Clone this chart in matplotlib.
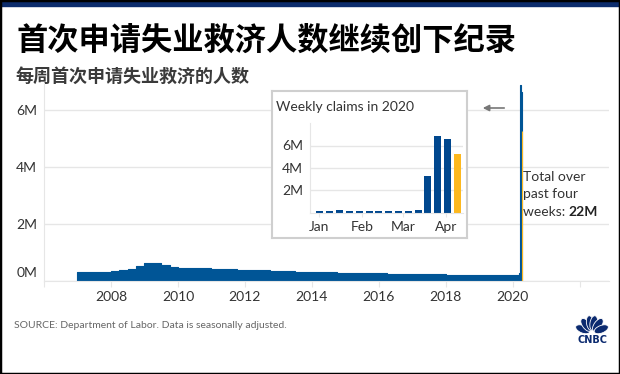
import numpy as np
import pandas as pd
import matplotlib
matplotlib.use('Agg')
import matplotlib.pyplot as plt
from matplotlib.patches import Rectangle, Ellipse, FancyArrowPatch
from matplotlib.transforms import ScaledTranslation

plt.rcParams['font.family'] = ['Lato', 'Noto Sans CJK SC', 'DejaVu Sans']

# quarterly average of weekly initial claims, thousands (2007 Q1 .. 2019 Q4)
quarterly_claims_k = [
    320, 315, 310, 330,   # 2007
    350, 370, 420, 510,   # 2008
    620, 640, 560, 500,   # 2009
    460, 460, 460, 440,   # 2010
    410, 420, 410, 400,   # 2011
    370, 380, 370, 360,   # 2012
    350, 350, 320, 330,   # 2013
    320, 310, 300, 290,   # 2014
    290, 280, 270, 270,   # 2015
    265, 260, 255, 255,   # 2016
    245, 245, 245, 240,   # 2017
    225, 220, 210, 220,   # 2018
    220, 215, 215, 215,   # 2019
]
first_year = 2007

# weekly claims in 2020 (week ending), thousands
week_ending_2020 = ['2020-01-04', '2020-01-11', '2020-01-18', '2020-01-25',
                    '2020-02-01', '2020-02-08', '2020-02-15', '2020-02-22',
                    '2020-02-29', '2020-03-07', '2020-03-14', '2020-03-21',
                    '2020-03-28', '2020-04-04', '2020-04-11']
weekly_claims_2020_k = [214, 207, 223, 216, 202, 205, 211, 219, 217, 211,
                        282, 3307, 6867, 6615, 5245]

month_labels = ['Jan', 'Feb', 'Mar', 'Apr']
month_starts = ['2020-01-01', '2020-02-01', '2020-03-01', '2020-04-01']

year_ticks = list(range(2006, 2023, 2))
main_yticks = [0, 2, 4, 6]
inset_yticks = [2, 4, 6]

title = '首次申请失业救济人数继续创下纪录'
subtitle = '每周首次申请失业救济的人数'
source = 'SOURCE: Department of Labor. Data is seasonally adjusted.'

BLUE = '#005596'
NAVY = '#00478e'
YELLOW = '#fdb81e'
GRID = '#e6e6e6'
TXT = '#333333'

W, H = 620, 374
fig = plt.figure(figsize=(W / 100, H / 100), dpi=100)
fig.patch.set_facecolor('white')

# ---- main chart ----
ax = fig.add_axes([44 / W, 1 - 281 / H, 565 / W, 197 / H])

q = np.array(quarterly_claims_k) / 1000
xq = first_year + np.arange(len(q)) * 0.25
doy = pd.to_datetime(week_ending_2020).dayofyear.values
wk = np.array(weekly_claims_2020_k) / 1000
xw = 2020 + (doy - 7) / 366

xs = np.concatenate([xq, xw[:-1], [xw[-1]]])
ys = np.concatenate([q, wk[:-1], [wk[-2]]])
ax.fill_between(xs, 0, ys, step='post', facecolor=BLUE, edgecolor=BLUE, lw=0.8, zorder=2)
ax.bar(xw[-1], wk[-1], width=7 / 366, align='edge', color=YELLOW,
       edgecolor=YELLOW, lw=0.8, zorder=2)

ax.set_xlim(2006, 2022.87)
ax.set_ylim(0, 6.9)
ax.set_yticks(main_yticks)
ax.set_yticklabels([f'{v}M' for v in main_yticks])
ax.set_xticks(year_ticks)
ax.set_xticklabels([str(y) if 2006 < y < 2022 else '' for y in year_ticks])
ax.grid(axis='y', color=GRID, lw=1)
ax.set_axisbelow(True)
for s in ['top', 'right']:
    ax.spines[s].set_visible(False)
for s in ['left', 'bottom']:
    ax.spines[s].set_color(GRID)
ax.tick_params(axis='y', length=0, pad=5, labelsize=10, labelcolor=TXT)
ax.tick_params(axis='x', length=4, color=GRID, pad=3, labelsize=10, labelcolor=TXT)
# the 0M label sits above the baseline
lab0 = ax.get_yticklabels()[0]
lab0.set_transform(lab0.get_transform() + ScaledTranslation(0, 9 / 100, fig.dpi_scale_trans))

# ---- inset ----
box = fig.add_axes([272 / W, 1 - 238 / H, 195 / W, 147 / H], zorder=3)
box.set_xticks([])
box.set_yticks([])
box.set_facecolor('white')
for s in box.spines.values():
    s.set_color('#cfcfcf')
    s.set_linewidth(1.5)
box.text(276 / W, 1 - 107 / H, 'Weekly claims in 2020', transform=fig.transFigure,
         fontsize=10, color=TXT, va='center', ha='left')

iax = fig.add_axes([310 / W, 1 - 213 / H, 153 / W, 90 / H], zorder=4)
iax.patch.set_visible(False)
colors = [NAVY] * (len(wk) - 1) + [YELLOW]
iax.bar(doy, wk, width=5, color=colors, zorder=2)
iax.set_xlim(-3.1, 106)
iax.set_ylim(0, 8)
iax.set_yticks(inset_yticks)
iax.set_yticklabels([f'{v}M' for v in inset_yticks])
iax.set_xticks(pd.to_datetime(month_starts).dayofyear.values + 2)
iax.set_xticklabels(month_labels)
iax.grid(axis='y', color=GRID, lw=1)
iax.set_axisbelow(True)
for s in ['top', 'right']:
    iax.spines[s].set_visible(False)
for s in ['left', 'bottom']:
    iax.spines[s].set_color(GRID)
iax.tick_params(axis='y', length=0, pad=5, labelsize=10, labelcolor=TXT)
iax.tick_params(axis='x', length=3, color=GRID, pad=3, labelsize=10, labelcolor=TXT)

# arrow pointing to the inset
fig.patches.append(FancyArrowPatch(
    (507 / W, 1 - 108 / H), (480 / W, 1 - 108 / H), transform=fig.transFigure,
    arrowstyle='-|>', mutation_scale=9, color='#777777', lw=1.2, zorder=6))

# total annotation
tx = 523 / W
fig.text(tx, 1 - 177 / H, 'Total over', fontsize=10, color=TXT, va='center')
fig.text(tx, 1 - 194 / H, 'past four', fontsize=10, color=TXT, va='center')
t3 = fig.text(tx, 1 - 212 / H, 'weeks: ', fontsize=10, color=TXT, va='center')
ax.annotate('22M', xy=(1, 0.5), xycoords=t3, va='center', ha='left',
            fontsize=10, fontweight='bold', color='#222222', annotation_clip=False)

# titles and source
fig.text(16 / W, 1 - 41 / H, title, fontsize=22.5, fontweight='bold', color='black',
         va='center', family=['Noto Sans CJK SC', 'DejaVu Sans'])
fig.text(16 / W, 1 - 76 / H, subtitle, fontsize=13, fontweight='bold', color='#3a3a3a',
         va='center', family=['Noto Sans CJK SC', 'DejaVu Sans'])
fig.text(14 / W, 1 - 325 / H, source, fontsize=7.5, color='#666666', va='center')

# CNBC peacock logo
lax = fig.add_axes([572 / W, 1 - 346 / H, 40 / W, 36 / H])
lax.set_xlim(0, 40)
lax.set_ylim(0, 36)
lax.axis('off')
for ang in [158, 126, 100, 80, 54, 22]:
    r = np.deg2rad(ang)
    lax.add_patch(Ellipse((20 + 10 * np.cos(r), 13 + 10 * np.sin(r)), 15, 7.5, angle=ang,
                          facecolor='#0b2a6f', edgecolor='white', lw=0.6))
lax.text(20, 6, 'CNBC', ha='center', va='center', fontsize=7, fontweight='bold',
         color='#0b2a6f', family='DejaVu Sans')

# frame and top band
fig.patches.append(Rectangle((0, 1 - 6 / H), 1, 6 / H, transform=fig.transFigure,
                             color='#0c2c6c', zorder=9))
fig.patches.append(Rectangle((0, 0), 1, 1, transform=fig.transFigure, fill=False,
                             edgecolor='black', lw=2.5, zorder=10))

fig.savefig('out.png', dpi=100)
